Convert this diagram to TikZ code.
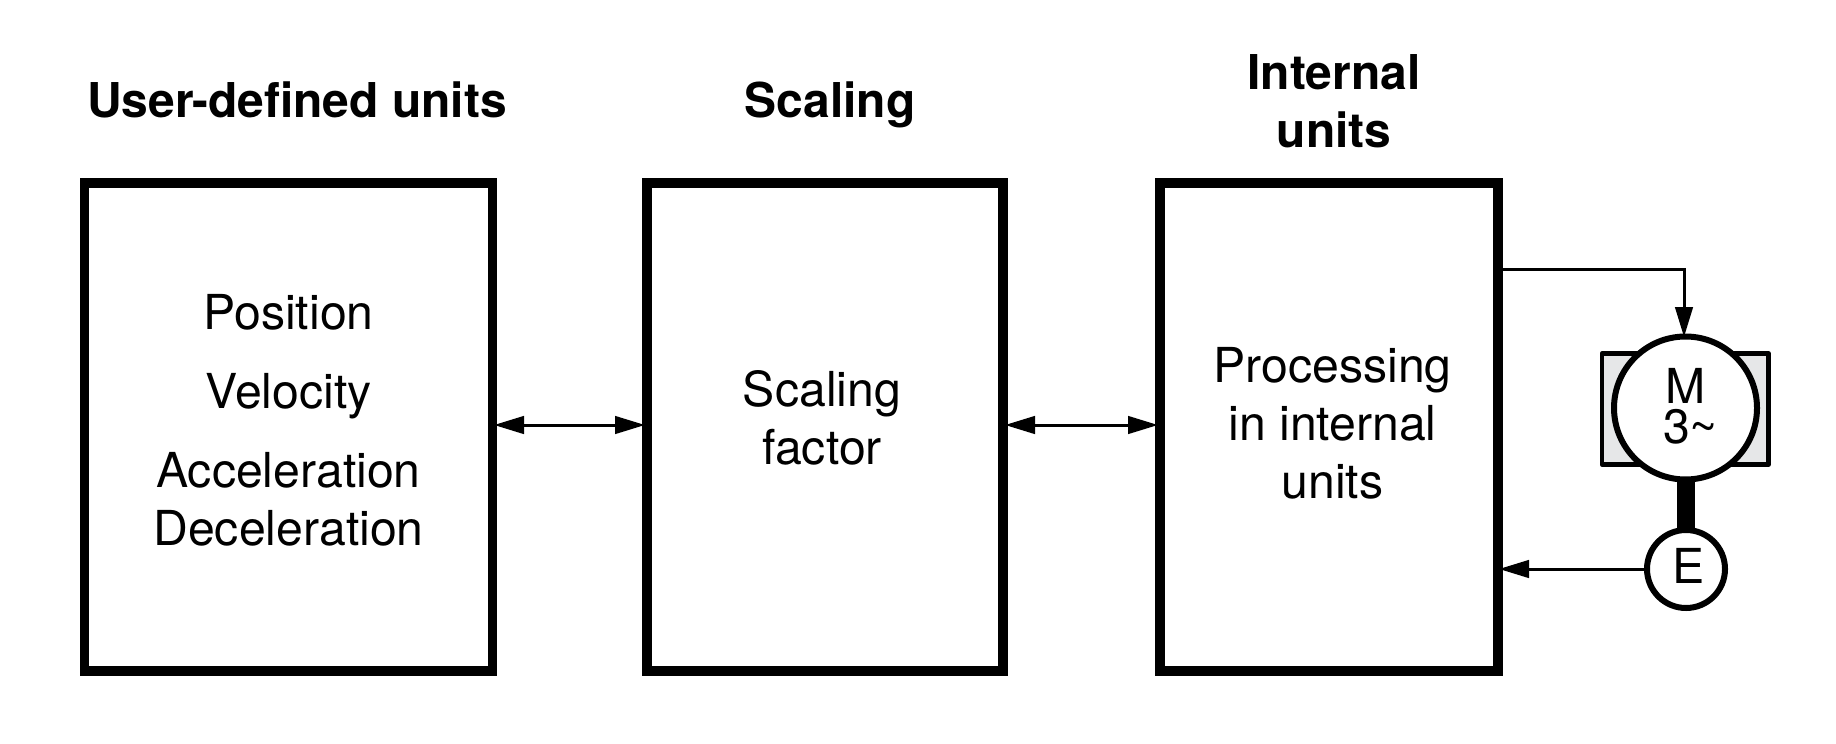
\documentclass[tikz,border=0pt]{standalone}
\usepackage{fontspec}
\setmainfont{TeX Gyre Heros}
\usetikzlibrary{arrows.meta}
\tikzset{
  x=1pt,y=-1pt,
  blockbox/.style={draw=black,line width=9.5pt,fill=none},
  title/.style={font=\fontsize{48}{48}\selectfont\bfseries,anchor=base,inner sep=0pt},
  body/.style={font=\fontsize{48.2}{48}\selectfont,anchor=base,inner sep=0pt},
  conn/.style={line width=3pt,-{Triangle[length=30pt,width=17.5pt]}},
  both/.style={line width=3pt,{Triangle[length=30pt,width=17.5pt]}-{Triangle[length=30pt,width=17.5pt]}},
}
\definecolor{motorgrey}{HTML}{E6E7E8}
\begin{document}
\begin{tikzpicture}
\useasboundingbox (0,0) rectangle (1836,744);
\fill[white] (0,0) rectangle (1836,744);
\draw[blockbox] (84.5,183) rectangle (492.5,671);
\draw[blockbox] (647,183) rectangle (1003,671);
\draw[blockbox] (1160,183) rectangle (1498,671);
\coordinate (b1r) at (494,425);
\coordinate (b2l) at (645,425);
\coordinate (b2r) at (1005,425);
\coordinate (b3l) at (1158,425);
\coordinate (b3a) at (1500,269);
\coordinate (b3b) at (1499,569);
\coordinate (mtop) at (1684,337);
\node[title] (t1) at (297,117) {User-defined units};
\node[title] (t2) at (830,117) {Scaling};
\node[title] (t3a) at (1334,89) {Internal};
\node[title] (t3b) at (1334,147) {units};
\node[body] (p1) at (288.5,329) {Position};
\node[body] (p2) at (288.5,408) {Velocity};
\node[body] (p3) at (288.5,487) {Acceleration};
\node[body] (p4) at (288.5,545) {Deceleration};
\node[body] (s1) at (822,406) {Scaling};
\node[body] (s2) at (822,464) {factor};
\node[body] (i1) at (1332.5,382.5) {Processing};
\node[body] (i2) at (1332.5,440.5) {in internal};
\node[body] (i3) at (1332.5,498.5) {units};
\draw[both] (b1r) -- (b2l);
\draw[both] (b2r) -- (b3l);
\draw[draw=black,line width=4.5pt,fill=motorgrey,line join=round] (1602,353.7) rectangle (1768.7,464.5);
\fill[black] (1677,470) rectangle (1695,535);
\node[draw=black,line width=6pt,fill=white,circle,minimum size=143pt,inner sep=0pt] (m) at (1685.5,408) {};
\node[draw=black,line width=6pt,fill=white,circle,minimum size=78pt,inner sep=0pt] (e) at (1686,569) {};
\node[body] (mt) at (1685.5,403) {M};
\node[body] (mt2) at (1690.5,443) {3\symbol{"007E}};
\node[body] (et) at (1688.5,583) {E};
\draw[conn,line join=miter] (b3a) -| (mtop);
\draw[conn] (e.west) -- (b3b);
\end{tikzpicture}
\end{document}
